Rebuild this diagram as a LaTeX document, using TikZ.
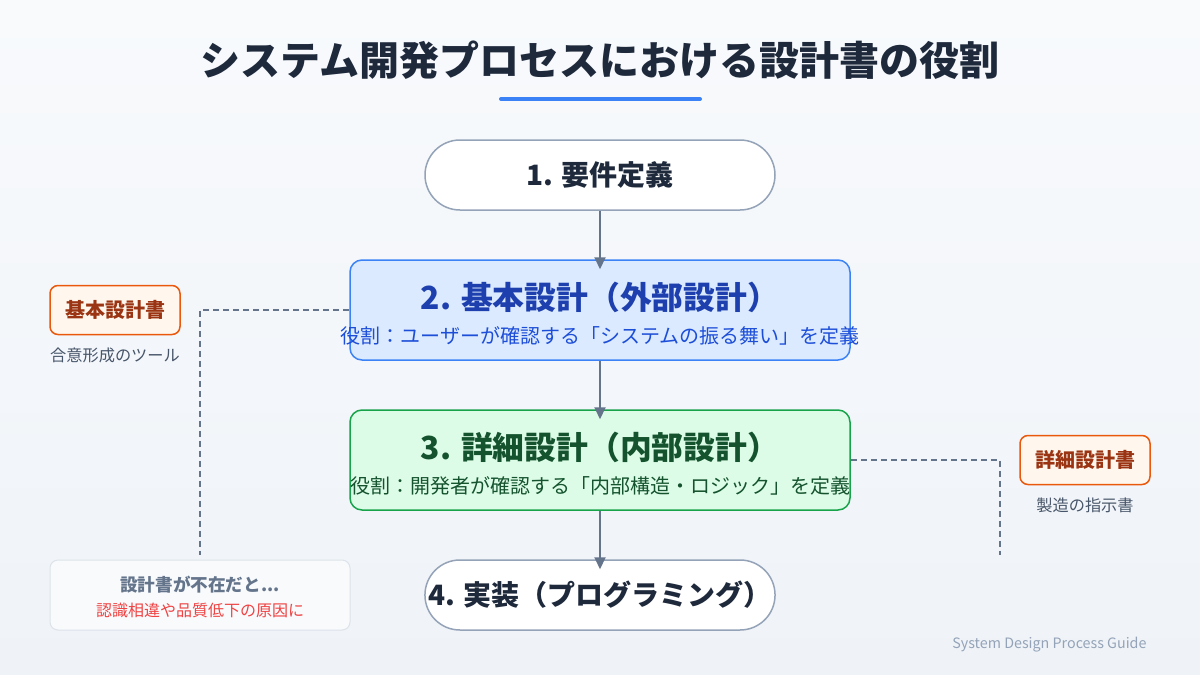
\documentclass[tikz,border=0pt]{standalone}
\usepackage{fontspec}
\setmainfont{Noto Sans CJK JP}
\usetikzlibrary{arrows.meta}
\definecolor{bgA}{HTML}{F8FAFC}\definecolor{bgB}{HTML}{EFF3F8}
\definecolor{ink}{HTML}{1E293B}\definecolor{slate}{HTML}{64748B}
\definecolor{gborder}{HTML}{94A3B8}
\definecolor{bfill}{HTML}{DBEAFE}\definecolor{bline}{HTML}{3B82F6}\definecolor{btext}{HTML}{1E40AF}\definecolor{bsub}{HTML}{1D4ED8}
\definecolor{gfill}{HTML}{DCFCE7}\definecolor{gline}{HTML}{16A34A}\definecolor{gtext}{HTML}{14532D}
\definecolor{ofill}{HTML}{FFF7ED}\definecolor{oline}{HTML}{EA580C}\definecolor{otext}{HTML}{9A3412}
\definecolor{note}{HTML}{475569}\definecolor{nfill}{HTML}{F8FAFC}\definecolor{nline}{HTML}{DDE3EA}
\definecolor{red}{HTML}{EF4444}\definecolor{foot}{HTML}{94A3B8}
\tikzset{
 pill/.style={draw=gborder,line width=1.5pt,fill=white,rounded corners=35pt,minimum width=350pt,minimum height=70pt,text=ink,font=\bfseries\fontsize{28}{32}\selectfont},
 stage/.style={rounded corners=12pt,line width=1.5pt,minimum width=500pt,minimum height=100pt},
 doc/.style={draw=oline,fill=ofill,line width=1.5pt,rounded corners=8pt,minimum width=130pt,minimum height=49pt,text=otext,font=\bfseries\fontsize{20}{22}\selectfont},
 sub/.style={text=note,font=\fontsize{16.2}{18}\selectfont},
 arr/.style={draw=slate,line width=2pt,-{Triangle[length=12pt,width=11pt]}},
 dashlink/.style={draw=slate,line width=1.5pt,dash pattern=on 6pt off 4pt}
}
\begin{document}
\begin{tikzpicture}[x=1pt,y=-1pt]
\shade[top color=bgA,bottom color=bgB] (0,0) rectangle (1200,675);
\useasboundingbox (0,0) rectangle (1200,675);
\node[text=ink,font=\bfseries\fontsize{40}{44}\selectfont] (title) at (600,60) {システム開発プロセスにおける設計書の役割};
\draw[bline,line width=4pt,line cap=round] (501,99) -- (700,99);
\node[pill] (s1) at (600,175) {1. 要件定義};
\node[stage,draw=bline,fill=bfill] (s2) at (600,310) {};
\node[text=btext,font=\bfseries\fontsize{31.8}{35}\selectfont] (s2t) at (600,297) {2. 基本設計（外部設計）};
\node[text=bsub,font=\fontsize{20}{22}\selectfont] (s2s) at (600,336) {役割：ユーザーが確認する「システムの振る舞い」を定義};
\node[stage,draw=gline,fill=gfill] (s3) at (600,460) {};
\node[text=gtext,font=\bfseries\fontsize{31.8}{35}\selectfont] (s3t) at (600,447) {3. 詳細設計（内部設計）};
\node[text=gtext,font=\fontsize{20}{22}\selectfont] (s3s) at (600,486) {役割：開発者が確認する「内部構造・ロジック」を定義};
\node[pill] (s4) at (600,595) {4. 実装（プログラミング）};
\draw[arr] (s1.south) -- ([yshift=-10pt]s2.north);
\draw[arr] (s2.south) -- ([yshift=-10pt]s3.north);
\draw[arr] (s3.south) -- ([yshift=-10pt]s4.north);
\node[doc] (d1) at (115,310) {基本設計書};
\node[sub] (d1s) at (115,355) {合意形成のツール};
\node[doc] (d2) at (1085,460) {詳細設計書};
\node[sub] (d2s) at (1085,505) {製造の指示書};
\coordinate (c1) at (200,555);
\coordinate (c2) at (1000,555);
\draw[dashlink] (s2.west) -- (200,310) -- (c1);
\draw[dashlink] (s3.east) -- (1000,460) -- (c2);
\node[draw=nline,fill=nfill,line width=1pt,rounded corners=8pt,minimum width=300pt,minimum height=70pt] (nb) at (200,595) {};
\node[text=slate,font=\bfseries\fontsize{17.6}{20}\selectfont] (nbt) at (200,585) {設計書が不在だと...};
\node[text=red,font=\fontsize{16}{18}\selectfont] (nbs) at (200,610) {認識相違や品質低下の原因に};
\node[text=foot,anchor=east,font=\fontsize{14.3}{16}\selectfont] (ft) at (1150,645) {System Design Process Guide};
\end{tikzpicture}
\end{document}
